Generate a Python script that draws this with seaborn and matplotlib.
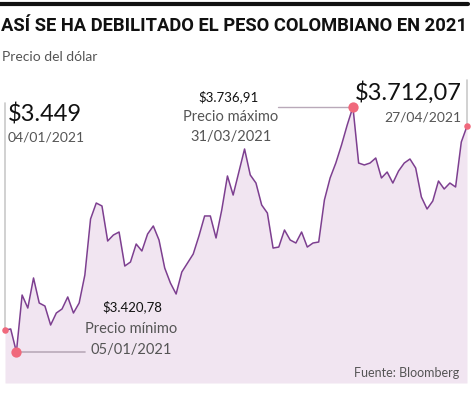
import matplotlib
matplotlib.use("Agg")
import matplotlib.pyplot as plt
import numpy as np
import pandas as pd
import seaborn as sns

# precio del dolar (COP), sesiones del 04/01/2021 al 27/04/2021
precio = [
    3449.0, 3450.5, 3420.78, 3494.3, 3477.5, 3516.3, 3484.0, 3480.1, 3455.6, 3471.1,
    3476.3, 3491.8, 3471.1, 3484.0, 3520.1, 3592.4, 3613.0, 3609.2, 3564.0, 3571.7,
    3575.6, 3531.7, 3536.9, 3560.1, 3551.1, 3573.0, 3583.4, 3565.3, 3529.2, 3509.8,
    3495.6, 3524.0, 3535.6, 3547.2, 3570.4, 3596.3, 3596.3, 3567.9, 3604.0, 3647.9,
    3623.3, 3653.0, 3682.7, 3649.2, 3638.8, 3610.5, 3600.1, 3554.9, 3556.2, 3578.2,
    3565.3, 3561.4, 3575.6, 3556.2, 3561.4, 3562.7, 3616.9, 3645.3, 3664.6, 3687.9,
    3713.7, 3736.91, 3664.6, 3662.1, 3664.6, 3671.1, 3645.3, 3653.0, 3638.8, 3654.3,
    3664.6, 3669.8, 3658.2, 3620.8, 3605.3, 3615.6, 3641.4, 3631.1, 3638.8, 3633.7,
    3691.7, 3712.07,
]
titulo = "ASÍ SE HA DEBILITADO EL PESO COLOMBIANO EN 2021"
subtitulo = "Precio del dólar"
fuente = "Fuente: Bloomberg"
etiqueta_ini = ["$3.449", "04/01/2021"]
etiqueta_min = ["$3.420,78", "Precio mínimo", "05/01/2021"]
etiqueta_max = ["$3.736,91", "Precio máximo", "31/03/2021"]
etiqueta_fin = ["$3.712,07", "27/04/2021"]

df = pd.DataFrame({"dia": np.arange(len(precio)), "precio": precio})
i_min = int(df.precio.idxmin())
i_max = int(df.precio.idxmax())
i_fin = len(df) - 1

LINE = "#7d3f90"
FILL = "#f1e5f1"
DOT = "#f0697c"
GRID = "#c9c9c9"
GREY = "#555555"

sns.set_style("white")
plt.rcParams["font.family"] = ["Lato", "DejaVu Sans"]

W, H = 472, 393
fig = plt.figure(figsize=(W / 100, H / 100), dpi=100)
ax = fig.add_axes([0, 0, 1, 1])

# pixel mapping
px_per_day = (467 - 5) / (len(df) - 1)
ax.set_xlim(-5 / px_per_day, (W - 5) / px_per_day)
pv = 1.2903  # pesos per pixel
ax.set_ylim(3420.78 - (H - 352) * pv, 3420.78 + 352 * pv)
base = 3420.78 - 31 * pv

def fx(px):
    return px / W

def fy(py):
    return 1 - py / H

ax.fill_between(df.dia, df.precio, base, color=FILL, lw=0, zorder=1)
sns.lineplot(data=df, x="dia", y="precio", color=LINE, lw=1.1, ax=ax, zorder=3)

# guide lines
ax.plot([0, 0], [df.precio[0], 3420.78 + (352 - 103) * pv], color=GRID, lw=1.2, zorder=2)
ax.plot([i_min, 14.0], [df.precio[i_min]] * 2, color="#b9a9b9", lw=1.2, zorder=2)
ax.plot([47.9, i_max], [df.precio[i_max]] * 2, color="#b9a9b9", lw=1.0, zorder=2)
ax.plot([i_fin, i_fin], [df.precio[i_fin], 3420.78 + (352 - 80) * pv], color=GRID, lw=1.2, zorder=2)

ax.scatter([0, i_fin], [df.precio[0], df.precio[i_fin]], s=22, color=DOT, zorder=4, lw=0)
ax.scatter([i_min, i_max], [df.precio[i_min], df.precio[i_max]], s=55, color=DOT, zorder=4, lw=0)

ax.axis("off")

# top rule and titles
fig.add_artist(plt.Line2D([fx(0), fx(468)], [fy(4), fy(4)], color="#111111", lw=3))
t = fig.text(fx(1), fy(26), titulo, fontsize=13, fontweight="bold", color="#111111",
             va="center", ha="left", family=["Roboto", "DejaVu Sans"])
r = fig.canvas.get_renderer()
wt = t.get_window_extent(renderer=r).width
t.set_fontsize(13 * 465 / wt)
fig.text(fx(2), fy(57), subtitulo, fontsize=10, color=GREY, va="center", ha="left")

fig.text(fx(8), fy(114), etiqueta_ini[0], fontsize=17, color="#111111", va="center", ha="left")
fig.text(fx(8), fy(137), etiqueta_ini[1], fontsize=10, color=GREY, va="center", ha="left")

fig.text(fx(132), fy(307), etiqueta_min[0], fontsize=9.5, color="#111111", va="center", ha="center")
fig.text(fx(131), fy(329), etiqueta_min[1], fontsize=10.5, color=GREY, va="center", ha="center")
fig.text(fx(131), fy(350), etiqueta_min[2], fontsize=10.5, color=GREY, va="center", ha="center")

fig.text(fx(229), fy(97), etiqueta_max[0], fontsize=9.5, color="#111111", va="center", ha="center")
fig.text(fx(231), fy(117), etiqueta_max[1], fontsize=10.5, color=GREY, va="center", ha="center")
fig.text(fx(231), fy(137), etiqueta_max[2], fontsize=10.5, color=GREY, va="center", ha="center")

fig.text(fx(462), fy(93), etiqueta_fin[0], fontsize=17, color="#111111", va="center", ha="right")
fig.text(fx(461), fy(117), etiqueta_fin[1], fontsize=10, color=GREY, va="center", ha="right")

fig.text(fx(459), fy(373), fuente, fontsize=9, color=GREY, va="center", ha="right")

fig.savefig("out.png", dpi=100)
